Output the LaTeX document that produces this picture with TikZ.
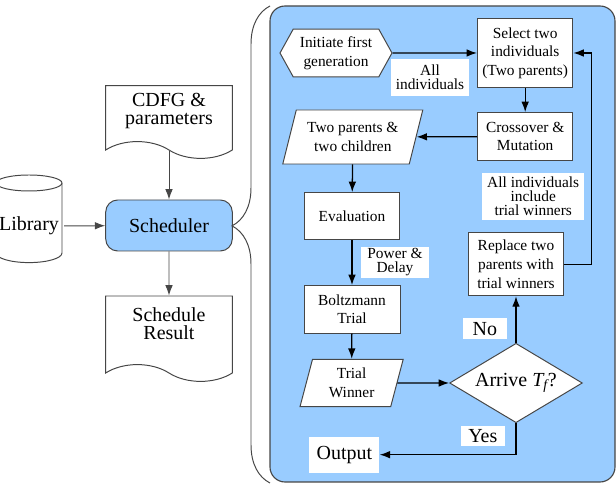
\documentclass[tikz,border=0pt]{standalone}
\usepackage{fontspec}
\setmainfont{Liberation Serif}
\usetikzlibrary{positioning,arrows.meta,shapes.geometric,shapes.symbols,decorations.pathreplacing}
\definecolor{panelblue}{RGB}{153,204,255}
\definecolor{edgegray}{RGB}{70,70,70}

\begin{document}
\begin{tikzpicture}[
  bigtxt/.style={font=\fontsize{14.2}{13}\selectfont},
  smalltxt/.style={font=\fontsize{10.95}{13.2}\selectfont},
  box/.style={draw=edgegray, fill=white, align=center, smalltxt, inner sep=0pt, line width=0.7pt},
  doc/.style={tape, tape bend top=none, tape bend bottom=out and in, tape bend height=0.42cm, draw=edgegray, fill=white, align=center, bigtxt, minimum width=3.165cm, inner sep=0pt, line width=0.7pt},
  para/.style={box, trapezium, trapezium stretches body},
  lbl/.style={fill=white, align=center, inner sep=0pt, font=\fontsize{10.95}{10}\selectfont},
  arr/.style={-{Latex[length=2.6mm,width=1.9mm]}, line width=0.9pt},
  larr/.style={-{Latex[length=2.6mm,width=1.9mm]}, line width=0.7pt, edgegray},
]
\useasboundingbox (0,0) rectangle (15.4,12.125);

% left side: inputs and outputs of the scheduler
\draw[edgegray, line width=0.7pt, fill=white] (-0.1,7.55) -- (-0.1,5.8)
  arc[start angle=180, end angle=360, x radius=0.825cm, y radius=0.24cm] -- (1.55,7.55)
  arc[start angle=0, end angle=180, x radius=0.825cm, y radius=0.2cm] -- cycle;
\draw[edgegray, line width=0.7pt] (-0.1,7.55) arc[start angle=180, end angle=360, x radius=0.825cm, y radius=0.2cm];
\node[bigtxt, inner sep=0.12cm] (lib) at (0.725,6.475) {Library};

\node[draw=edgegray, fill=panelblue, rounded corners=0.3cm, minimum width=3.165cm, minimum height=1.275cm, bigtxt, line width=0.7pt] (sched) at (4.225,6.4875) {Scheduler};
\node[doc, minimum height=1.8175cm] (cdfg) at (4.225,9.284) {CDFG \&\\parameters\rule[-6.5pt]{0pt}{6.5pt}};
\node[doc, minimum height=2.135cm] (result) at (4.225,3.8675) {Schedule\\Result\rule[-9.8pt]{0pt}{9.8pt}};

\draw[larr] (cdfg) -- (sched);
\draw[larr] (sched) -- (result);
\draw[larr] (lib) -- (sched);

\draw[edgegray, line width=0.7pt, decorate, decoration={brace, amplitude=0.95cm, aspect=0.539}] (6.75,0.05) -- (6.75,11.975);

% right side: the genetic algorithm inside the scheduler
\draw[edgegray, fill=panelblue, rounded corners=0.375cm, line width=0.8pt] (6.75,0.075) rectangle (15.375,11.975);

\node[box, signal, signal to=west and east, signal pointer angle=122, minimum width=2.8cm, minimum height=1.19cm] (init) at (8.4,10.8) {Initiate first\\generation};
\node[box, minimum width=2.385cm, minimum height=1.73cm] (select) at (13.13,10.8) {Select two\\individuals\\(Two parents)};
\node[box, minimum width=2.385cm, minimum height=1.2cm] (cross) at (13.13,8.71) {Crossover \&\\Mutation};
\node[para, trapezium left angle=65, trapezium right angle=115, minimum width=3.5cm, minimum height=1.35cm] (parents) at (8.82,8.7) {Two parents \&\\two children};
\node[box, minimum width=2.385cm, minimum height=1.18cm] (eval) at (8.8,6.72) {Evaluation};
\node[box, minimum width=2.4cm, minimum height=1.19cm] (boltz) at (8.8,4.39) {Boltzmann\\Trial};
\node[para, trapezium left angle=67, trapezium right angle=113, minimum width=2.58cm, minimum height=1.185cm] (winner) at (8.79,2.55) {Trial\\Winner};
\node[box, diamond, aspect=1.67, bigtxt, minimum width=3.32cm, minimum height=1.985cm] (arrive) at (12.9,2.55) {Arrive {\itshape T}\textsubscript{\itshape f}?};
\node[box, minimum width=2.385cm, minimum height=1.58cm] (replace) at (12.9,5.52) {Replace two\\parents with\\trial winners};
\node[lbl, bigtxt, minimum width=1.75cm, minimum height=0.9cm] (output) at (8.61,0.7575) {Output};

\node[lbl, minimum width=1.96cm, minimum height=0.91cm] (lblall) at (10.75,10.19) {All\\individuals};
\node[lbl, minimum width=2.54cm, minimum height=1.17cm] (lblinc) at (13.33,7.21) {All individuals\\include\\trial winners};
\node[lbl, minimum width=1.715cm, minimum height=0.79cm] (lblpow) at (9.875,5.5625) {Power \&\\Delay};
\node[lbl, bigtxt, minimum width=1.1cm, minimum height=0.525cm] (lblno) at (12.12,3.905) {No};
\node[lbl, bigtxt, minimum width=1.11cm, minimum height=0.5cm] (lblyes) at (12.07,1.225) {Yes};

\draw[arr] (init) -- (select);
\draw[arr] (select) -- (cross);
\draw[arr] (cross) -- (parents);
\draw[arr] (parents) -- (eval);
\draw[arr] (eval) -- (boltz);
\draw[arr] (boltz) -- (winner);
\draw[arr] (winner) -- (arrive);
\draw[arr] (arrive) -- (replace);
\draw[arr] (replace.east) -- ++(0.68,0) |- (select.east);
\draw[arr] (arrive.south) |- (output.east);
\end{tikzpicture}
\end{document}
